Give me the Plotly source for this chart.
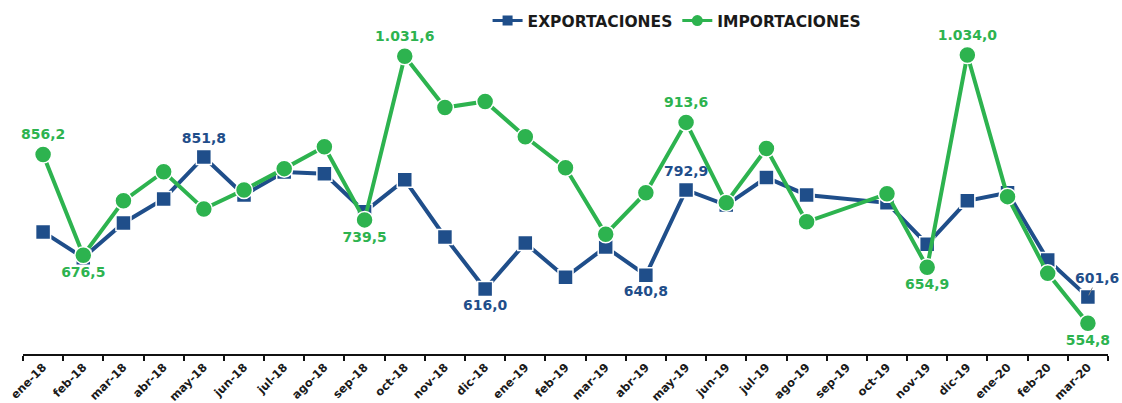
import plotly.graph_objects as go

months = ["ene-18", "feb-18", "mar-18", "abr-18", "may-18", "jun-18", "jul-18", "ago-18", "sep-18",
          "oct-18", "nov-18", "dic-18", "ene-19", "feb-19", "mar-19", "abr-19", "may-19", "jun-19",
          "jul-19", "ago-19", "sep-19", "oct-19", "nov-19", "dic-19", "ene-20", "feb-20", "mar-20"]

exportaciones = [718.0, 672.0, 734.0, 777.0, 851.8, 784.0, 825.0, 822.0, 754.0,
                 811.0, 709.0, 616.0, 698.0, 637.0, 691.0, 640.8, 792.9, 766.0,
                 815.0, 784.0, None, 770.0, 696.0, 773.5, 788.0, 668.0, 601.6]

importaciones = [856.2, 676.5, 773.5, 825.5, 759.0, 793.0, 831.0, 870.0, 739.5,
                 1031.6, 940.0, 951.0, 888.0, 832.5, 714.0, 788.0, 913.6, 770.0,
                 867.0, 736.0, None, 786.0, 654.9, 1034.0, 781.0, 644.0, 554.8]

# which points carry a data label, and where
exp_label_pos = {4: "top center", 11: "bottom center", 15: "bottom center", 16: "top center"}
exp_callout = 26  # labelled with a short leader line
imp_label_pos = {0: "top center", 1: "bottom center", 8: "bottom center", 9: "top center",
                 16: "top center", 22: "bottom center", 23: "top center", 26: "bottom center"}

BLUE = "#1F4E8A"
GREEN = "#2DB34F"
SHADOW = "rgba(90,90,90,0.28)"
FONT = "DejaVu Sans"


def fmt(v):
    s = f"{v:,.1f}"
    return s.replace(",", "X").replace(".", ",").replace("X", ".")


def labels(vals, pos):
    txt = [fmt(v) if i in pos and v is not None else "" for i, v in enumerate(vals)]
    tp = [pos.get(i, "top center") for i in range(len(vals))]
    return txt, tp


et, ep = labels(exportaciones, exp_label_pos)
it, ip = labels(importaciones, imp_label_pos)

fig = go.Figure()

# drop shadows (same data, drawn on an offset copy of the axes)
fig.add_trace(go.Scatter(x=months, y=exportaciones, mode="lines+markers", connectgaps=True,
                         line=dict(color=SHADOW, width=5),
                         marker=dict(symbol="square", size=16, color=SHADOW),
                         showlegend=False, hoverinfo="skip", xaxis="x", yaxis="y"))
fig.add_trace(go.Scatter(x=months, y=importaciones, mode="lines+markers", connectgaps=True,
                         line=dict(color=SHADOW, width=5),
                         marker=dict(symbol="circle", size=18, color=SHADOW),
                         showlegend=False, hoverinfo="skip", xaxis="x", yaxis="y"))

# main series
fig.add_trace(go.Scatter(
    x=months, y=exportaciones, name="EXPORTACIONES", mode="lines+markers+text",
    connectgaps=True, cliponaxis=False, showlegend=False,
    line=dict(color=BLUE, width=4),
    marker=dict(symbol="square", size=15, color=BLUE, line=dict(color="white", width=1.5)),
    text=et, textposition=ep,
    textfont=dict(family=FONT, size=14, color=BLUE, weight="bold"),
    xaxis="x2", yaxis="y2",
))
fig.add_trace(go.Scatter(
    x=months, y=importaciones, name="IMPORTACIONES", mode="lines+markers+text",
    connectgaps=True, cliponaxis=False, showlegend=False,
    line=dict(color=GREEN, width=4),
    marker=dict(symbol="circle", size=17, color=GREEN, line=dict(color="white", width=1.5)),
    text=it, textposition=ip,
    textfont=dict(family=FONT, size=14, color=GREEN, weight="bold"),
    xaxis="x2", yaxis="y2",
))

# label with leader line for the last export value
fig.add_annotation(x=months[exp_callout], y=exportaciones[exp_callout], xref="x2", yref="y2",
                   text=fmt(exportaciones[exp_callout]), showarrow=True, arrowhead=0,
                   arrowwidth=1, arrowcolor="#8a8a8a", ax=9, ay=-19, standoff=2,
                   font=dict(family=FONT, size=14, color=BLUE, weight="bold"))

# legend entries (small symbols as in the reference)
fig.add_trace(go.Scatter(x=[None], y=[None], name="EXPORTACIONES", mode="lines+markers",
                         line=dict(color=BLUE, width=3),
                         marker=dict(symbol="square", size=10, color=BLUE),
                         xaxis="x2", yaxis="y2"))
fig.add_trace(go.Scatter(x=[None], y=[None], name="IMPORTACIONES", mode="lines+markers",
                         line=dict(color=GREEN, width=3),
                         marker=dict(symbol="circle", size=11, color=GREEN),
                         xaxis="x2", yaxis="y2"))

W, H = 1088, 339
fig.update_layout(
    width=1122, height=403,
    margin=dict(l=23, r=11, t=18, b=46, autoexpand=False),
    paper_bgcolor="white", plot_bgcolor="white",
    showlegend=True,
    legend=dict(orientation="h", x=0.427, xanchor="left",
                yref="container", y=1 - 21 / 403, yanchor="middle",
                font=dict(family=FONT, size=15.5, color="#1a1a1a", weight="bold"),
                bgcolor="rgba(0,0,0,0)", itemwidth=30, tracegroupgap=0),
    xaxis=dict(type="category", domain=[3 / W, 1], range=[-0.5, 26.5], visible=False,
               anchor="y", automargin=False),
    yaxis=dict(domain=[0, 1 - 3 / H], range=[500, 1100], visible=False, anchor="x"),
    xaxis2=dict(type="category", domain=[0, 1 - 3 / W], range=[-0.5, 26.5], anchor="y2",
                showline=True, linecolor="#111", linewidth=2, automargin=False,
                ticks="outside", tickson="boundaries", ticklen=5, tickcolor="#111", tickwidth=2,
                tickangle=-45, showgrid=False,
                tickfont=dict(family=FONT, size=11.5, color="#1a1a1a", weight="bold")),
    yaxis2=dict(domain=[3 / H, 1], range=[500, 1100], visible=False, anchor="x2",
                showgrid=False),
)

fig.write_html("out.html", config={"displayModeBar": False},
               post_script="document.body.style.margin='0px';")
